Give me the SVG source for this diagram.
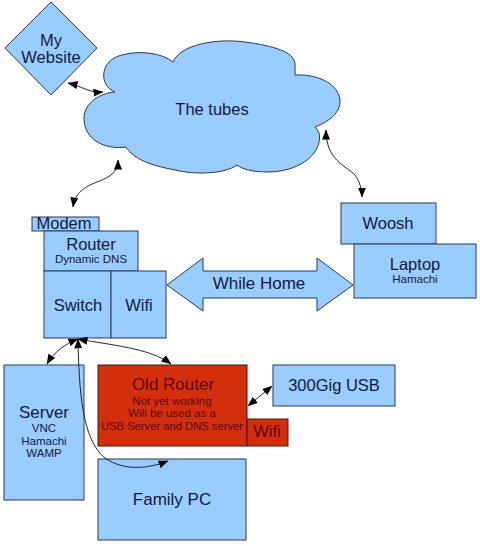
<svg xmlns="http://www.w3.org/2000/svg" width="480" height="546" viewBox="0 0 480 546">
<style>
.b{fill:#99ccff;stroke:#2a3a55;stroke-width:1}
.r{fill:#d42f0c;stroke:#3a1a10;stroke-width:1}
text{font-family:"Liberation Sans",Arial,sans-serif;fill:#141a3a;text-anchor:middle}
.L{font-size:16.5px}
.s{font-size:11.5px}
.rt{fill:#5a0800}
.c{fill:none;stroke:#111;stroke-width:0.9;marker-start:url(#ah);marker-end:url(#ah)}
</style>
<defs>
<marker id="ah" viewBox="0 0 10 8" refX="9.5" refY="4" markerWidth="10" markerHeight="8" markerUnits="userSpaceOnUse" orient="auto-start-reverse">
<path d="M0,0 L10,4 L0,8 Z" fill="#000"/>
</marker>
</defs>
<rect width="480" height="546" fill="#fff"/>
<g id="website">
<polygon class="b" points="51,2 97,48 51,95 5,48"/>
<text class="L" x="51" y="46">My</text>
<text class="L" x="51" y="63">Website</text>
</g>
<g id="cloud">
<path class="b" d="M115,92 C98,85 100,60 122,55 C140,50 162,53 173,62 C180,45 215,38 245,42 C275,46 293,52 295,63 L295,75 C315,74 338,82 340,100 C341,113 328,122 315,127 C322,133 320,143 316,150 C308,164 288,172 268,172 C252,172 242,169 237,165 C225,174 195,175 175,170 C150,165 135,160 126,147 C105,150 84,140 84,118 C84,103 100,93 115,92 Z"/>
<text class="L" x="212" y="115">The tubes</text>
</g>
<g id="modem">
<rect class="b" x="32" y="217" width="67" height="14"/>
<text class="L" x="64" y="229">Modem</text>
</g>
<g id="router">
<rect class="b" x="44" y="231" width="94" height="40"/>
<text class="L" x="91" y="250">Router</text>
<text class="s" x="91" y="263">Dynamic DNS</text>
</g>
<g id="switch">
<rect class="b" x="44" y="271" width="67" height="67"/>
<text class="L" x="78" y="311">Switch</text>
</g>
<g id="wifi">
<rect class="b" x="111" y="271" width="55" height="67"/>
<text class="L" x="139" y="311">Wifi</text>
</g>
<g id="whilehome">
<polygon class="b" points="167,285 203,258 203,271 317,271 317,258 353,285 317,311 317,298 203,298 203,311"/>
<text class="L" x="259" y="289" style="font-size:17px">While Home</text>
</g>
<g id="woosh">
<rect class="b" x="341" y="203" width="95" height="41"/>
<text class="L" x="388" y="229">Woosh</text>
</g>
<g id="laptop">
<rect class="b" x="354" y="244" width="122" height="54"/>
<text class="L" x="415" y="270">Laptop</text>
<text class="s" x="415" y="283">Hamachi</text>
</g>
<g id="server">
<rect class="b" x="4" y="365" width="80" height="135"/>
<text class="L" x="44" y="418" style="font-size:17px">Server</text>
<text class="s" x="44" y="432">VNC</text>
<text class="s" x="44" y="445">Hamachi</text>
<text class="s" x="44" y="457">WAMP</text>
</g>
<g id="oldrouter">
<rect class="r" x="98" y="365" width="149" height="81"/>
<text class="L rt" x="173" y="390" style="font-size:17px">Old Router</text>
<text class="s rt" x="172" y="405">Not yet working</text>
<text class="s rt" x="172" y="417">Will be used as a</text>
<text class="s rt" x="172" y="430" textLength="142" lengthAdjust="spacingAndGlyphs">USB Server and DNS server</text>
</g>
<g id="oldwifi">
<rect class="r" x="247" y="419" width="41" height="27"/>
<text class="L rt" x="267" y="437">Wifi</text>
</g>
<g id="usb">
<rect class="b" x="273" y="365" width="122" height="41"/>
<text class="L" x="334" y="391">300Gig USB</text>
</g>
<g id="familypc">
<rect class="b" x="98" y="459" width="148" height="81"/>
<text class="L" x="172" y="505" style="font-size:17px">Family PC</text>
</g>
<g id="connectors">
<path class="c" d="M68,83 C82,86 88,93 103,92"/>
<path class="c" d="M118,160 C118,180 95,180 85,188 C76,194 74,200 73,207"/>
<path class="c" d="M326,130 C326,160 345,165 355,175 C360,182 362,190 362,197"/>
<path class="c" d="M78,339 C65,344 54,352 47,364"/>
<path class="c" d="M78,339 C110,345 150,348 171,364"/>
<path class="c" d="M78,339 C79,390 82,440 105,458 C125,472 150,468 168,461"/>
<path class="c" d="M248,406 L272,386"/>
</g>
</svg>
